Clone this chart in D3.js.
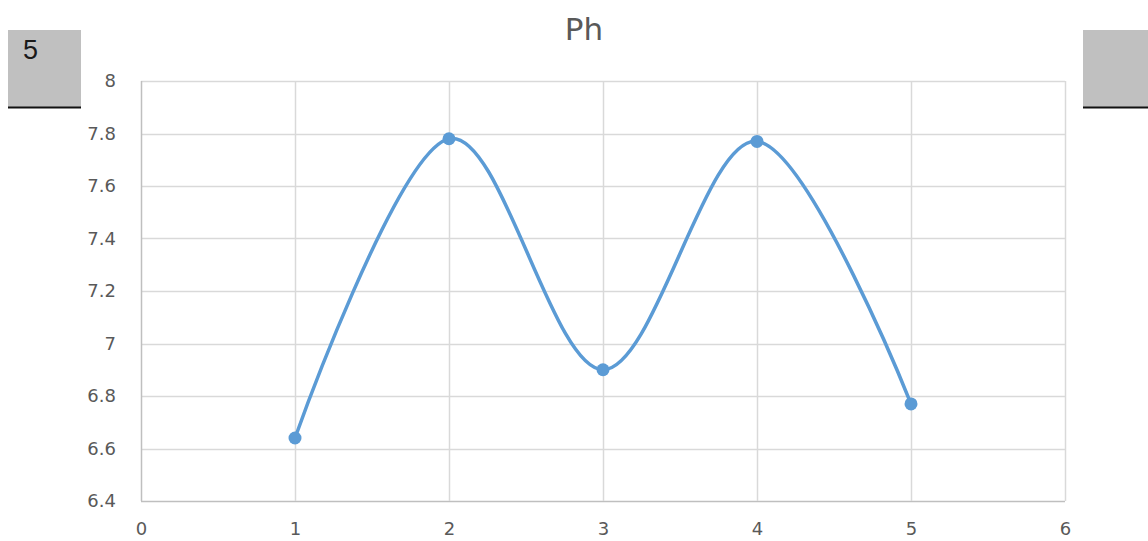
<!DOCTYPE html>
<html>
<head>
<meta charset="utf-8">
<script src="https://cdn.jsdelivr.net/npm/d3@7"></script>
<style>
html,body{margin:0;padding:0;background:#fff;}
svg{display:block;}
</style>
</head>
<body>
<svg id="chart" width="1148" height="541"></svg>
<script>
const xValues = [1, 2, 3, 4, 5];
const phValues = [6.64, 7.78, 6.90, 7.77, 6.77];
const xTicks = [0, 1, 2, 3, 4, 5, 6];
const yTicks = [6.4, 6.6, 6.8, 7, 7.2, 7.4, 7.6, 7.8, 8];
const title = "Ph";
const boxLabel = "5";

const svg = d3.select("#chart");
const m = {left: 141, right: 1065, top: 81, bottom: 501};
const tickFont = "DejaVu Sans, Verdana, sans-serif";

const x = d3.scaleLinear().domain([0, 6]).range([m.left, m.right]);
const y = d3.scaleLinear().domain([6.4, 8]).range([m.bottom, m.top]);

// decorative gray boxes
svg.append("rect").attr("x", 8).attr("y", 30).attr("width", 73).attr("height", 77).attr("fill", "#c0c0c0");
svg.append("line").attr("x1", 8).attr("x2", 81).attr("y1", 107.5).attr("y2", 107.5).attr("stroke", "#111").attr("stroke-width", 2);
svg.append("text").attr("x", 23).attr("y", 59).attr("font-family", "Liberation Sans, Arial, sans-serif")
  .attr("font-size", 27).attr("fill", "#1a1a1a").text(boxLabel);
svg.append("rect").attr("x", 1083).attr("y", 30).attr("width", 65).attr("height", 77).attr("fill", "#c0c0c0");
svg.append("line").attr("x1", 1083).attr("x2", 1148).attr("y1", 107.5).attr("y2", 107.5).attr("stroke", "#111").attr("stroke-width", 2);

// gridlines
const grid = svg.append("g");
grid.selectAll("line.h").data(yTicks).join("line")
  .attr("x1", m.left).attr("x2", m.right)
  .attr("y1", d => Math.round(y(d)) + 0.5).attr("y2", d => Math.round(y(d)) + 0.5)
  .attr("stroke", d => d === 6.4 ? "#bfbfbf" : "#d9d9d9").attr("stroke-width", 1.5);
grid.selectAll("line.v").data(xTicks).join("line")
  .attr("y1", m.top).attr("y2", m.bottom)
  .attr("x1", d => Math.round(x(d)) + 0.5).attr("x2", d => Math.round(x(d)) + 0.5)
  .attr("stroke", d => d === 0 ? "#bfbfbf" : "#d9d9d9").attr("stroke-width", 1.5);

// axes labels
const yAxis = d3.axisLeft(y).tickValues(yTicks).tickSize(0).tickPadding(0).tickFormat(d3.format("~g"));
const gy = svg.append("g").attr("transform", `translate(${m.left - 25},0)`).call(yAxis);
gy.select(".domain").remove();
gy.selectAll("text").attr("font-family", tickFont).attr("font-size", 18).attr("fill", "#595959");

const xAxis = d3.axisBottom(x).tickValues(xTicks).tickSize(0).tickPadding(0).tickFormat(d3.format("d"));
const gx = svg.append("g").attr("transform", `translate(0,${m.bottom + 21})`).call(xAxis);
gx.select(".domain").remove();
gx.selectAll("text").attr("font-family", tickFont).attr("font-size", 18).attr("fill", "#595959");

// title
svg.append("text").attr("x", 584).attr("y", 40).attr("text-anchor", "middle")
  .attr("font-family", tickFont).attr("font-size", 31).attr("fill", "#595959").text(title);

// line
const data = xValues.map((d, i) => ({x: d, y: phValues[i]}));
const line = d3.line().x(d => x(d.x)).y(d => y(d.y)).curve(d3.curveCardinal.tension(0));
svg.append("path").datum(data).attr("d", line).attr("fill", "none")
  .attr("stroke", "#5b9bd5").attr("stroke-width", 3.5).attr("stroke-linecap", "round");
svg.selectAll("circle.pt").data(data).join("circle")
  .attr("cx", d => x(d.x)).attr("cy", d => y(d.y)).attr("r", 6.5).attr("fill", "#5b9bd5");
</script>
</body>
</html>
